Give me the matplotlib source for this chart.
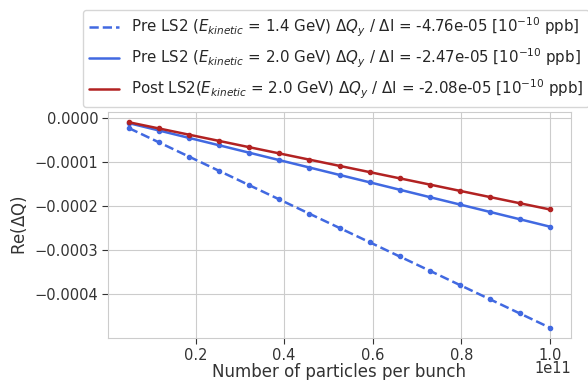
import matplotlib
matplotlib.use('Agg')
import matplotlib.pyplot as plt
import seaborn as sns

sns.set_style('whitegrid')
plt.rcParams['font.family'] = ['DejaVu Sans']
plt.rcParams['xtick.bottom'] = True
plt.rcParams['ytick.left'] = True

# Number of particles per bunch
intensity = [0.05e11, 0.1179e11, 0.1857e11, 0.2536e11, 0.3214e11, 0.3893e11, 0.4571e11,
             0.5250e11, 0.5929e11, 0.6607e11, 0.7286e11, 0.7964e11, 0.8643e11, 0.9321e11, 1.0e11]

# Re(dQ) for each case
pre_ls2_14 = [-2.38e-5, -5.61e-5, -8.84e-5, -1.207e-4, -1.530e-4, -1.853e-4, -2.176e-4,
              -2.499e-4, -2.822e-4, -3.145e-4, -3.468e-4, -3.791e-4, -4.114e-4, -4.437e-4, -4.76e-4]
pre_ls2_20 = [-1.24e-5, -2.91e-5, -4.59e-5, -6.26e-5, -7.94e-5, -9.62e-5, -1.129e-4,
              -1.297e-4, -1.464e-4, -1.632e-4, -1.800e-4, -1.967e-4, -2.135e-4, -2.302e-4, -2.47e-4]
post_ls2_20 = [-1.04e-5, -2.45e-5, -3.86e-5, -5.27e-5, -6.69e-5, -8.10e-5, -9.51e-5,
               -1.092e-4, -1.233e-4, -1.374e-4, -1.515e-4, -1.657e-4, -1.798e-4, -1.939e-4, -2.08e-4]

labels = [
    r'Pre LS2 ($E_{kinetic}$ = 1.4 GeV) $\Delta Q_y$ / $\Delta$I = -4.76e-05 [$10^{-10}$ ppb]',
    r'Pre LS2 ($E_{kinetic}$ = 2.0 GeV) $\Delta Q_y$ / $\Delta$I = -2.47e-05 [$10^{-10}$ ppb]',
    r'Post LS2($E_{kinetic}$ = 2.0 GeV) $\Delta Q_y$ / $\Delta$I = -2.08e-05 [$10^{-10}$ ppb]',
]

fig = plt.figure(figsize=(5.88, 3.8), dpi=100)
ax = fig.add_axes([108 / 588, 1 - 338 / 380, 463 / 588, 226 / 380])

ax.plot(intensity, pre_ls2_14, '--', color='royalblue', lw=1.8, label=labels[0])
ax.plot(intensity, pre_ls2_14, '.', color='royalblue', ms=6)
ax.plot(intensity, pre_ls2_20, '-', color='royalblue', lw=1.8, label=labels[1])
ax.plot(intensity, pre_ls2_20, '.', color='royalblue', ms=6)
ax.plot(intensity, post_ls2_20, '-', color='firebrick', lw=1.8, label=labels[2])
ax.plot(intensity, post_ls2_20, '.', color='firebrick', ms=6)

ax.set_xlabel('Number of particles per bunch', fontsize=12, color='#333333', labelpad=0)
ax.set_ylabel(r'Re($\Delta$Q)', fontsize=12, color='#333333')
ax.tick_params(labelsize=10.5, colors='#333333', length=4, pad=3)
ax.xaxis.get_offset_text().set_fontsize(10.5)
ax.xaxis.OFFSETTEXTPAD = -1

fig.legend(loc='upper left', bbox_to_anchor=(83 / 588, 1 - 10 / 380), fontsize=10.8,
           frameon=True, borderaxespad=0)

fig.savefig('out.png', dpi=100)
